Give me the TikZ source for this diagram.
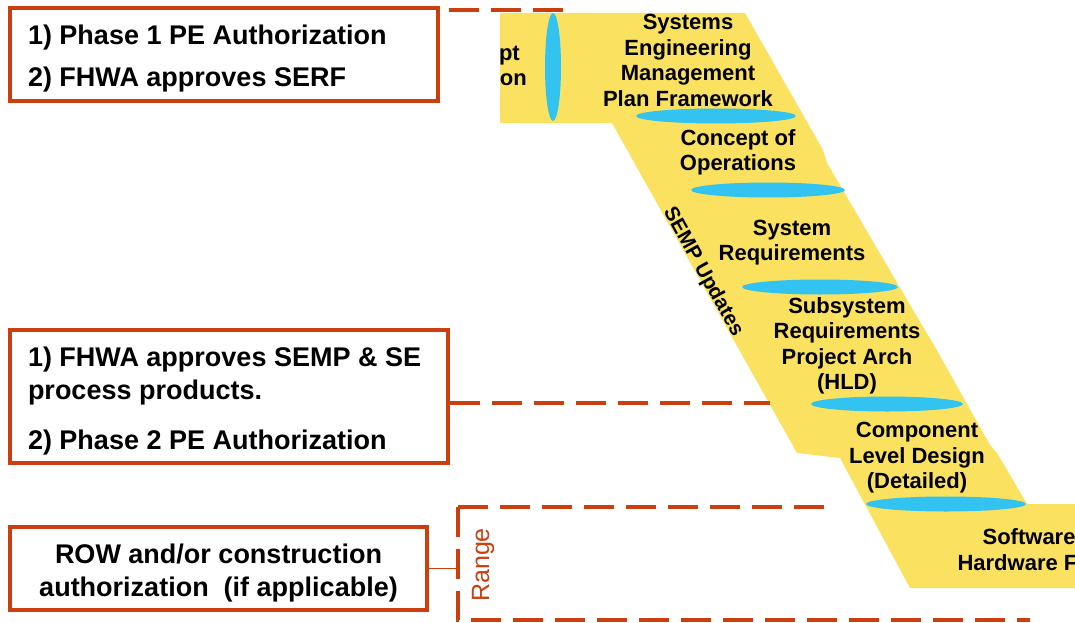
\documentclass[tikz,border=0pt]{standalone}
\usepackage{fontspec}
\setmainfont{Liberation Sans}
\definecolor{authred}{RGB}{205,62,14}
\definecolor{vyellow}{RGB}{250,226,96}
\definecolor{vcyan}{RGB}{50,195,240}
\newcommand{\toppad}{\rule{0pt}{28pt}}
\begin{document}
\begin{tikzpicture}[x=1pt,y=-1pt,
  authbox/.style={draw=authred, line width=4pt, fill=white, inner sep=0pt,
    font=\bfseries\fontsize{27}{33}\selectfont},
  phase/.style={font=\bfseries\fontsize{22}{25.5}\selectfont, align=center, inner sep=0pt},
  gate/.style={draw=authred, line width=3.5pt, dash pattern=on 30pt off 12pt},
  disc/.style={fill=vcyan}]
\useasboundingbox (0,0) rectangle (1075,623);
\clip (0,0) rectangle (1075,623);

% the V band (left wing, top to bottom)
\fill[vyellow] (500,13) -- (745,13) -- (823,150) -- (827,163) -- (913,310)
  -- (935,347) -- (990,445) -- (997,453) -- (1027,504) -- (1075,504)
  -- (1075,588) -- (910,588) -- (840,458) -- (797,453) -- (612,123)
  -- (500,123) -- cycle;

% phase separators
\fill[disc] (553,67) ellipse [x radius=8, y radius=54];
\fill[disc] (716,116) ellipse [x radius=80, y radius=7.5];
\fill[disc] (768,190) ellipse [x radius=77, y radius=7.5];
\fill[disc] (820,287) ellipse [x radius=78, y radius=7.5];
\fill[disc] (887,404) ellipse [x radius=76, y radius=7.5];
\fill[disc] (946,504) ellipse [x radius=80, y radius=7.5];

% phase labels
\begin{scope}
  \clip (500,13) rectangle (545,123);
  \node[phase, anchor=east] (ce1) at (520,55) {Concept};
  \node[phase, anchor=east] (ce2) at (527,80) {Exploration};
\end{scope}
\node[phase] (semp) at (688,60.5) {Systems\\Engineering\\Management\\Plan Framework};
\node[phase] (conops) at (738,152.5) {Concept of\\Operations};
\node[phase] (sysreq) at (792,242.5) {System\\Requirements};
\node[phase] (subreq) at (847,346) {Subsystem\\Requirements\\Project Arch\\(HLD)};
\node[phase] (detail) at (917,458) {Component\\Level Design\\(Detailed)};
\node[phase] (build) at (1070,549.5) {Software Coding\\Hardware Fabrication};
\node[font=\bfseries\fontsize{20.5}{20.5}\selectfont, rotate=-61, inner sep=0pt]
  (updates) at (703,272) {SEMP Updates};

% authorization boxes
\node[authbox, minimum width=428pt, minimum height=93pt, align=left] (b1) at (224,54.5)
  {\toppad\makebox[392pt][l]{1) Phase 1 PE Authorization}\\[9pt]2) FHWA approves SERF};
\node[authbox, minimum width=438pt, minimum height=133pt, align=left] (b2) at (229,396.5)
  {\toppad\makebox[402pt][l]{1) FHWA approves SEMP \& SE}\\process products.\\[17pt]2) Phase 2 PE Authorization};
\node[authbox, minimum width=417pt, minimum height=83pt, align=center] (b3) at (218.5,568.5)
  {\toppad ROW and/or construction\\authorization\ \ (if applicable)};

% gate lines
\coordinate (g1) at (565,10);
\coordinate (g2) at (770,403);
\coordinate (rtop) at (458,507);
\coordinate (rtopend) at (830,507);
\coordinate (rbot) at (458,620);
\coordinate (rbotend) at (1030,620);
\draw[gate, shorten <=9pt] (b1.east |- g1) -- (g1);
\draw[gate] (b2.east |- g2) -- (g2);
\draw[gate] (rtop) -- (rtopend);
\draw[gate] (rtop) -- (rbot) -- (rbotend);
\draw[authred, line width=1.5pt] (b3.east) -- (rtop |- b3.east);
\node[rotate=90, text=authred, font=\fontsize{25}{25}\selectfont, inner sep=0pt]
  (rng) at (483,565) {Range};
\end{tikzpicture}
\end{document}
